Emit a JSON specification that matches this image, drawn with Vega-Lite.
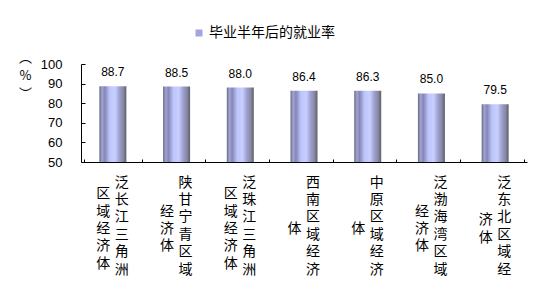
{
  "$schema": "https://vega.github.io/schema/vega-lite/v6.json",
  "autosize": "none",
  "width": 446,
  "height": 98,
  "padding": {"left": 81, "top": 64, "right": 23, "bottom": 138},
  "background": "white",
  "config": {
    "view": {"stroke": null},
    "font": "Liberation Sans"
  },
  "data": {
    "values": [
      {"region": "泛长江三角洲区域经济体", "rate": 88.7, "series": "毕业半年后的就业率"},
      {"region": "陕甘宁青区域经济体", "rate": 88.5, "series": "毕业半年后的就业率"},
      {"region": "泛珠江三角洲区域经济体", "rate": 88.0, "series": "毕业半年后的就业率"},
      {"region": "西南区域经济体", "rate": 86.4, "series": "毕业半年后的就业率"},
      {"region": "中原区域经济体", "rate": 86.3, "series": "毕业半年后的就业率"},
      {"region": "泛渤海湾区域经济体", "rate": 85.0, "series": "毕业半年后的就业率"},
      {"region": "泛东北区域经济体", "rate": 79.5, "series": "毕业半年后的就业率"}
    ]
  },
  "encoding": {
    "y": {
      "field": "rate", "type": "quantitative",
      "scale": {"domain": [50, 100], "nice": false, "zero": false},
      "axis": {
        "values": [50, 60, 70, 80, 90, 100],
        "grid": false, "labelOverlap": false, "labelFlush": false,
        "domainColor": "black", "tickColor": "black", "tickSize": -4,
        "labelPadding": 23, "labelFontSize": 13, "labelColor": "black",
        "labelFont": "Liberation Sans",
        "title": ["︵", "%", "︶"],
        "titleAngle": 0, "titleX": -56, "titleY": -13,
        "titleAlign": "center", "titleBaseline": "top",
        "titleFont": "Noto Sans CJK SC", "titleFontSize": 13, "titleFontWeight": "normal",
        "titleLineHeight": 18, "titleColor": "black"
      }
    }
  },
  "layer": [
    {
      "mark": {
        "type": "bar", "width": 27,
        "color": {
          "gradient": "linear", "x1": 0, "y1": 0, "x2": 1, "y2": 0,
          "stops": [
            {"offset": 0, "color": "#6a6a7a"},
            {"offset": 0.1, "color": "#a0a4d8"},
            {"offset": 0.2, "color": "#8486b4"},
            {"offset": 0.38, "color": "#bcc4fa"},
            {"offset": 0.58, "color": "#c8d0ff"},
            {"offset": 0.75, "color": "#9c9ed0"},
            {"offset": 0.88, "color": "#8a8aa4"},
            {"offset": 1, "color": "#5e5e6c"}
          ]
        }
      },
      "encoding": {
        "x": {
          "field": "region", "type": "nominal", "sort": null, "title": null,
          "axis": {
            "orient": "bottom",
            "domainColor": "black", "domainWidth": 1,
            "tickColor": "black", "tickSize": -3, "tickBand": "extent",
            "labelAngle": 0, "labelAlign": "center", "labelBaseline": "top",
            "labelExpr": "datum.value ? split(substring(datum.value, 0, 6), '') : ''",
            "labelOffset": 8.5, "labelPadding": 16, "labelLineHeight": 17.4,
            "labelFont": "Noto Sans CJK SC", "labelFontSize": 14, "labelColor": "black",
            "labelOverlap": false, "labelBound": false, "labelLimit": 0
          }
        },
        "y2": {"datum": 50}
      }
    },
    {
      "mark": {"type": "text", "dy": -14, "fontSize": 12, "color": "black", "font": "Liberation Sans"},
      "encoding": {
        "x": {
          "field": "region", "type": "nominal", "sort": null, "title": null,
          "axis": {
            "orient": "bottom",
            "domain": false, "ticks": false,
            "labelAngle": 0, "labelAlign": "center", "labelBaseline": "top",
            "labelExpr": "datum.value ? split(substring(datum.value, 6), '') : ''",
            "labelOffset": -9.5, "labelLineHeight": 17.4,
            "labelPadding": {
              "condition": [
                {"test": "length(substring(datum.value, 6)) == 5", "value": 24.7},
                {"test": "length(substring(datum.value, 6)) == 3", "value": 42.1},
                {"test": "length(substring(datum.value, 6)) == 2", "value": 50.8},
                {"test": "length(substring(datum.value, 6)) == 1", "value": 59.5}
              ],
              "value": 16
            },
            "labelFont": "Noto Sans CJK SC", "labelFontSize": 14, "labelColor": "black",
            "labelOverlap": false, "labelBound": false, "labelLimit": 0
          }
        },
        "text": {"field": "rate", "type": "quantitative", "format": ".1f"}
      }
    },
    {
      "transform": [{"filter": "false"}],
      "mark": {"type": "bar"},
      "encoding": {
        "x": {"field": "region", "type": "nominal", "sort": null, "axis": null},
        "color": {
          "field": "series", "type": "nominal",
          "scale": {"domain": ["毕业半年后的就业率"], "range": ["#a2a6dc"]},
          "legend": {
            "orient": "none", "legendX": 111, "legendY": -38,
            "title": null, "symbolType": "square", "symbolSize": 49,
            "symbolStrokeWidth": 0, "labelFont": "Noto Sans CJK SC",
            "labelFontSize": 14, "labelColor": "black", "labelOffset": 3
          }
        }
      }
    }
  ],
  "resolve": {"axis": {"x": "independent"}}
}
